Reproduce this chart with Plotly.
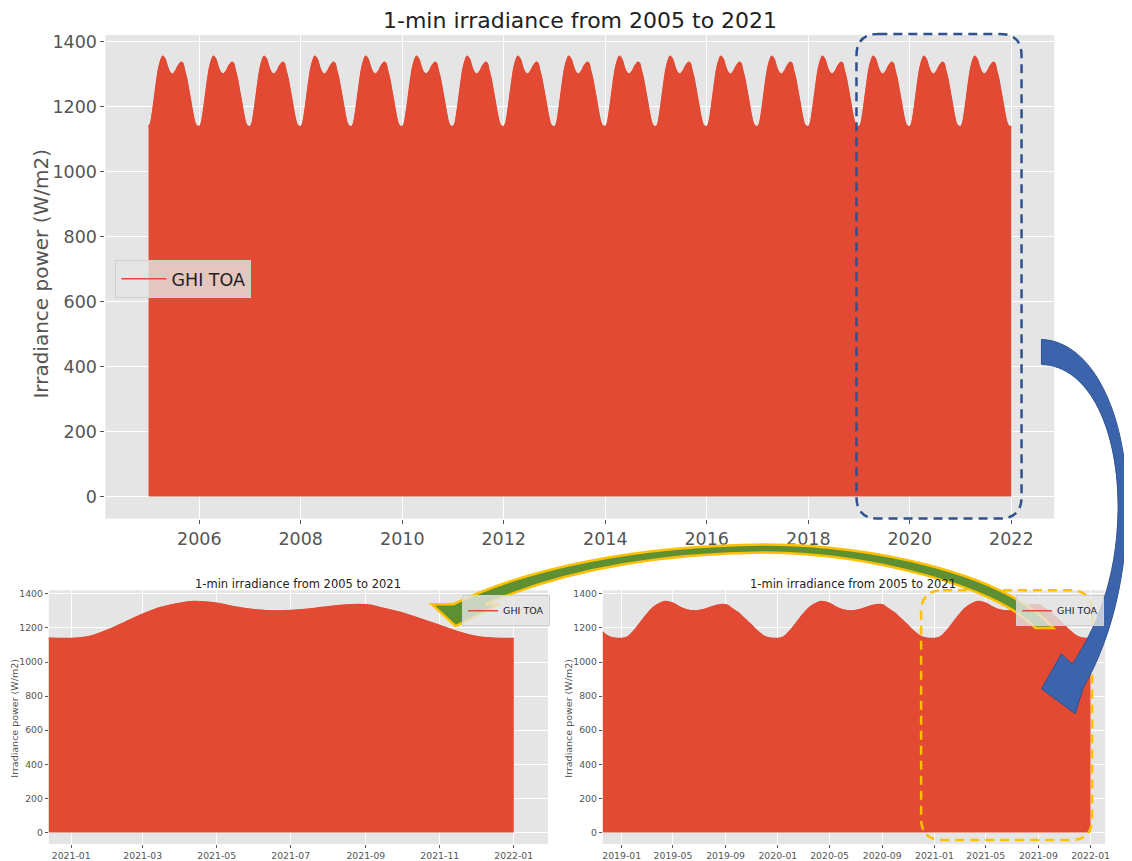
import pandas as pd
import plotly.graph_objects as go

# ---------------- data ----------------
YEARS = list(range(2005, 2022))
# envelope of the 1-min TOA GHI (daily maximum) through one year
DAY_OF_YEAR = [0, 14, 31, 45, 59, 73, 90, 101, 120, 134, 151, 172,
               195, 212, 236, 247, 257, 273, 287, 304, 318, 334, 348, 364]
DAILY_MAX_WM2 = [1138, 1148, 1190, 1235, 1280, 1318, 1345, 1355, 1345, 1325, 1307, 1300,
                 1310, 1325, 1337, 1333, 1315, 1288, 1255, 1215, 1180, 1150, 1140, 1138]
END_DATE = "2022-01-01"
END_VALUE = 1138

TOP_XTICKS = ["2006", "2008", "2010", "2012", "2014", "2016", "2018", "2020", "2022"]
BL_XTICKS = ["2021-01", "2021-03", "2021-05", "2021-07", "2021-09", "2021-11", "2022-01"]
BR_XTICKS = ["2019-01", "2019-05", "2019-09", "2020-01", "2020-05", "2020-09",
             "2021-01", "2021-05", "2021-09", "2022-01"]
Y_TICKS = [0, 200, 400, 600, 800, 1000, 1200, 1400]
SERIES_NAME = "GHI TOA"
TITLE = "1-min irradiance from 2005 to 2021"
Y_LABEL = "Irradiance power (W/m2)"

# ---------------- build the series ----------------
dates, values = [], []
for yr in YEARS:
    base = pd.Timestamp(year=yr, month=1, day=1)
    for d, v in zip(DAY_OF_YEAR, DAILY_MAX_WM2):
        dates.append(base + pd.Timedelta(days=d))
        values.append(v)
dates.append(pd.Timestamp(END_DATE))
values.append(END_VALUE)

# the page body keeps an 8px margin, so the figure is 8px smaller and coordinates shift by 8
OFF = 8
W, H = 1132 - OFF, 861 - OFF
RED = "#E24A33"
GREY_TXT = "#555555"
FONT = "DejaVu Sans"


def px(x):
    return (x - OFF) / W


def py(y):
    return 1 - (y - OFF) / H


panels = [
    dict(xdom=(105, 1059), ydom=(32, 518), xrange=("2004-02-26", "2022-11-07"),
         ticks=TOP_XTICKS, tfs=17.5, gw=1.4, tl=4, legend="legend"),
    dict(xdom=(48, 550), ydom=(590, 845), xrange=("2020-12-13 12:00", "2022-01-29 08:00"),
         ticks=BL_XTICKS, tfs=9.3, gw=1, tl=3, legend="legend2"),
    dict(xdom=(605, 1110), ydom=(590, 845), xrange=("2018-11-18", "2022-02-04"),
         ticks=BR_XTICKS, tfs=9.3, gw=1, tl=3, legend="legend3"),
]

fig = go.Figure()
layout_axes = {}
for i, p in enumerate(panels):
    sfx = "" if i == 0 else str(i + 1)
    xa, ya = "x" + sfx, "y" + sfx
    fig.add_trace(go.Scatter(
        x=dates, y=values, mode="lines",
        line=dict(color=RED, width=0.8, shape="spline", smoothing=0.8),
        fill="tozeroy", fillcolor=RED, showlegend=False, hoverinfo="skip",
        xaxis=xa, yaxis=ya))
    fig.add_trace(go.Scatter(
        x=dates, y=values, mode="lines", name=SERIES_NAME,
        line=dict(color=RED, width=1.5, shape="spline", smoothing=0.8),
        showlegend=True, legend=p["legend"], hoverinfo="skip",
        xaxis=xa, yaxis=ya))
    tickvals = [pd.Timestamp(t) for t in p["ticks"]]
    layout_axes["xaxis" + sfx] = dict(
        domain=[px(p["xdom"][0]), px(p["xdom"][1])], anchor=ya, type="date",
        range=list(p["xrange"]), tickvals=tickvals, ticktext=p["ticks"],
        showgrid=True, gridcolor="white", gridwidth=p["gw"], zeroline=False, showline=False,
        ticks="outside", ticklen=p["tl"], tickcolor=GREY_TXT,
        tickfont=dict(family=FONT, size=p["tfs"], color=GREY_TXT))
    layout_axes["yaxis" + sfx] = dict(
        domain=[py(p["ydom"][1]), py(p["ydom"][0])], anchor=xa,
        range=[-68, 1421], tickvals=Y_TICKS, ticktext=[str(t) for t in Y_TICKS],
        showgrid=True, gridcolor="white", gridwidth=p["gw"], zeroline=False, showline=False,
        ticks="outside", ticklen=p["tl"], tickcolor=GREY_TXT,
        tickfont=dict(family=FONT, size=p["tfs"], color=GREY_TXT))

legend_style = dict(bgcolor="rgba(229,229,229,0.8)", bordercolor="#D0D0D0", borderwidth=1,
                    xref="paper", yref="paper")

fig.update_layout(
    width=W, height=H, autosize=False,
    margin=dict(l=0, r=0, t=0, b=0),
    paper_bgcolor="white", plot_bgcolor="#E5E5E5",
    font=dict(family=FONT, color=GREY_TXT),
    legend=dict(x=px(115), y=py(258), xanchor="left", yanchor="top", itemwidth=45,
                font=dict(family=FONT, size=17.5, color="#222222"), **legend_style),
    legend2=dict(x=px(552), y=py(595), xanchor="right", yanchor="top", itemwidth=30,
                 font=dict(family=FONT, size=9.5, color="#222222"), **legend_style),
    legend3=dict(x=px(1109), y=py(595), xanchor="right", yanchor="top", itemwidth=30,
                 font=dict(family=FONT, size=9.5, color="#222222"), **legend_style),
    **layout_axes,
)

# titles and axis labels
ann = [
    (582, 18, TITLE, 22, "#222222", 0),
    (40, 272, Y_LABEL, 20, GREY_TXT, -90),
    (299, 584, TITLE, 11.5, "#222222", 0),
    (857, 584, TITLE, 11.5, "#222222", 0),
    (14, 718, Y_LABEL, 9.5, GREY_TXT, -90),
    (571, 718, Y_LABEL, 9.5, GREY_TXT, -90),
]
for x, y, t, s, c, a in ann:
    fig.add_annotation(x=px(x), y=py(y), xref="paper", yref="paper", text=t, showarrow=False,
                       textangle=a, xanchor="center", yanchor="middle",
                       font=dict(family=FONT, size=s, color=c))


# ---------------- decorations (dashed boxes, curved arrows) ----------------
def P(x, y):
    return f"{px(x):.5f},{py(y):.5f}"


def rrect(x0, y0, x1, y1, r):
    return (f"M {P(x0 + r, y0)} L {P(x1 - r, y0)} Q {P(x1, y0)} {P(x1, y0 + r)} "
            f"L {P(x1, y1 - r)} Q {P(x1, y1)} {P(x1 - r, y1)} L {P(x0 + r, y1)} "
            f"Q {P(x0, y1)} {P(x0, y1 - r)} L {P(x0, y0 + r)} Q {P(x0, y0)} {P(x0 + r, y0)} Z")


def path(cmds):
    out = []
    for c in cmds:
        op, pts = c[0], c[1:]
        out.append(op + " " + " ".join(P(*q) for q in pts))
    return " ".join(out) + " Z"


fig.add_shape(type="path", path=rrect(860, 31, 1026, 518, 22), xref="paper", yref="paper",
              line=dict(color="#2F528F", width=2.5, dash="9px,6px"), layer="above")
fig.add_shape(type="path", path=rrect(925, 590, 1097, 841, 22), xref="paper", yref="paper",
              line=dict(color="#FFC000", width=2.5, dash="9px,6px"), layer="above")

blue_arrow = path([
    ("M", (1046, 338)),
    ("C", (1100, 340), (1134, 420), (1132, 510)),
    ("C", (1131, 590), (1110, 650), (1088, 688)),
    ("L", (1080, 714)),
    ("L", (1046, 689)),
    ("L", (1066, 654)),
    ("L", (1077, 664)),
    ("C", (1100, 630), (1122, 580), (1123, 510)),
    ("C", (1124, 430), (1095, 365), (1046, 363)),
])
fig.add_shape(type="path", path=blue_arrow, xref="paper", yref="paper",
              fillcolor="#3B64AD", line=dict(color="#2F528F", width=1), layer="above")

yellow_arrow = path([
    ("M", (457, 626)),
    ("L", (433, 604)),
    ("L", (455, 604)),
    ("C", (530, 567), (640, 545), (770, 544)),
    ("C", (870, 545), (1005, 570), (1058, 628)),
    ("L", (1040, 628)),
    ("C", (1000, 585), (870, 553), (770, 552)),
    ("C", (650, 553), (560, 572), (487, 604)),
    ("L", (502, 604)),
])
fig.add_shape(type="path", path=yellow_arrow, xref="paper", yref="paper",
              fillcolor="#5E8F32", line=dict(color="#FFC000", width=2.5), layer="above")

fig.write_html("out.html", config={"displayModeBar": False})
